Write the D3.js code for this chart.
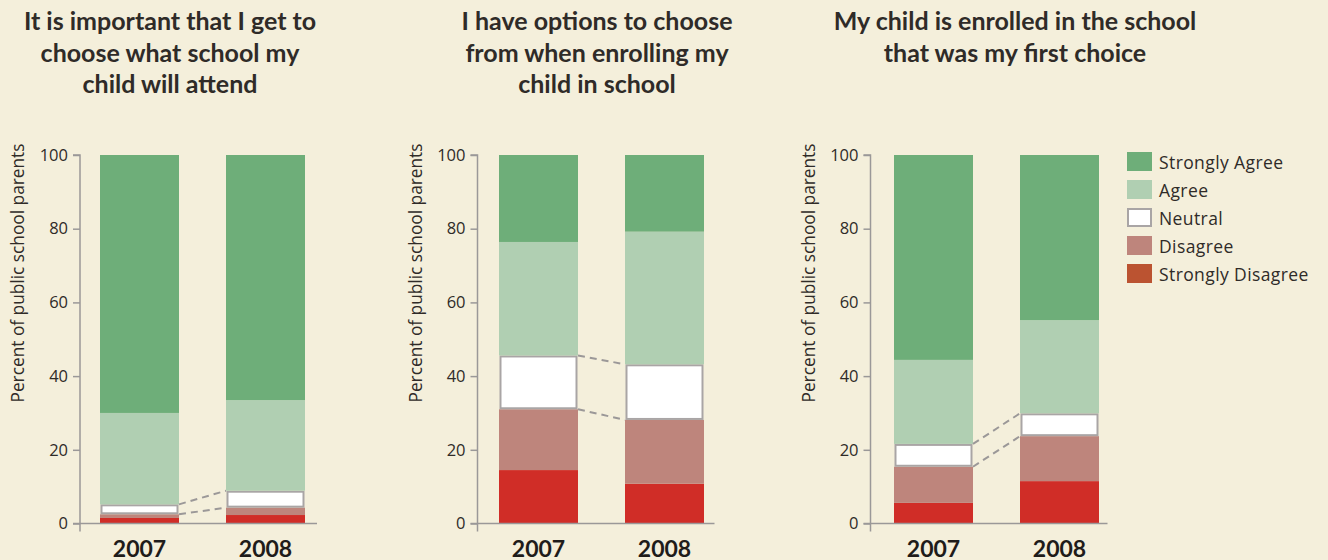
<!DOCTYPE html>
<html><head><meta charset="utf-8">
<script src="https://cdn.jsdelivr.net/npm/d3@7/dist/d3.min.js"></script>
<style>
html,body{margin:0;padding:0;background:#f4efdb;}
svg{display:block;}
</style></head>
<body>
<svg id="chart" width="1328" height="560"></svg>
<script>
const years = ["2007", "2008"];
const categories = ["Strongly Disagree", "Disagree", "Neutral", "Agree", "Strongly Agree"];
const legendOrder = ["Strongly Agree", "Agree", "Neutral", "Disagree", "Strongly Disagree"];
const titles = [
  ["It is important that I get to", "choose what school my", "child will attend"],
  ["I have options to choose", "from when enrolling my", "child in school"],
  ["My child is enrolled in the school", "that was my first choice"]
];
// values per panel, per year, order: SD, D, N, A, SA
const panel1 = [[1.5, 1.0, 2.7, 24.8, 70.0], [2.3, 2.0, 4.6, 24.6, 66.5]];
const panel2 = [[14.5, 16.5, 14.6, 30.8, 23.6], [10.8, 17.3, 15.1, 36.0, 20.8]];
const panel3 = [[5.6, 9.8, 6.2, 22.8, 55.6], [11.5, 12.2, 6.2, 25.3, 44.8]];
const yTicks = [0, 20, 40, 60, 80, 100];
const yLabel = "Percent of public school parents";

const panels = [panel1, panel2, panel3];
const barColors = {"Strongly Agree":"#6eae79","Agree":"#b0cfb2","Neutral":"#ffffff","Disagree":"#be857c","Strongly Disagree":"#d02d27"};
const legendColors = {"Strongly Agree":"#6eae79","Agree":"#b0cfb2","Neutral":"#ffffff","Disagree":"#be857c","Strongly Disagree":"#bb5331"};

const svg = d3.select("#chart");
const font = "Lato, 'Open Sans', sans-serif";
const wideFont = "'Open Sans', Lato, sans-serif";
const axisX = [80, 477.5, 870.5];
const barOffset = [20, 21.5, 23.5];
const titleX = [170, 597, 1015];
const y = d3.scaleLinear().domain([0, 100]).range([523.5, 155]);

panels.forEach((data, pi) => {
  const g = svg.append("g");
  const ax = axisX[pi];
  const x = d3.scaleBand().domain(years).range([ax + barOffset[pi], ax + barOffset[pi] + 205]).paddingInner(0.373).paddingOuter(0);

  // title
  const t = g.append("text").attr("x", titleX[pi]).attr("text-anchor", "middle")
    .attr("font-family", font).attr("font-weight", 700).attr("font-size", 25).attr("fill", "#2f2b28");
  titles[pi].forEach((line, li) => {
    t.append("tspan").attr("x", titleX[pi]).attr("y", 30 + li * 31.5).text(line);
  });

  // stacks
  years.forEach((yr, yi) => {
    let acc = 0;
    data[yi].forEach((v, ci) => {
      const cat = categories[ci];
      const y0 = acc, y1 = acc + v; acc = y1;
      if (cat === "Neutral") {
        g.append("rect").attr("x", x(yr) + 1.5).attr("width", x.bandwidth() - 3)
          .attr("y", y(y1) + 1).attr("height", Math.max(0, y(y0) - y(y1) - 2))
          .attr("fill", "#fff").attr("stroke", "#a9a5a5").attr("stroke-width", 2);
      } else {
        g.append("rect").attr("x", x(yr)).attr("width", x.bandwidth())
          .attr("y", y(y1)).attr("height", y(y0) - y(y1)).attr("fill", barColors[cat]);
      }
    });
  });

  // dashed connectors for neutral band
  const nb = years.map((yr, yi) => {
    const lo = data[yi][0] + data[yi][1];
    return [lo, lo + data[yi][2]];
  });
  [0, 1].forEach(k => {
    g.append("line")
      .attr("x1", x(years[0]) + x.bandwidth()).attr("y1", y(nb[0][k]))
      .attr("x2", x(years[1])).attr("y2", y(nb[1][k]))
      .attr("stroke", "#9b9898").attr("stroke-width", 2).attr("stroke-dasharray", "7,5");
  });

  // y axis
  const yAxis = d3.axisLeft(y).tickValues(yTicks).tickSize(7).tickPadding(5);
  const ga = g.append("g").attr("transform", `translate(${ax},0)`).call(yAxis);
  ga.select(".domain").attr("stroke", "#9a9898").attr("stroke-width", 1.5).attr("d", `M-7,${y(100)}H0V${y(0) + 8}`);
  ga.selectAll(".tick line").attr("stroke", "#9a9898").attr("stroke-width", 1.5);
  ga.selectAll(".tick text").attr("font-family", wideFont).attr("font-size", 16.5).attr("fill", "#2f2b28");
  // baseline
  g.append("line").attr("x1", ax - 7).attr("x2", ax + 237).attr("y1", y(0)).attr("y2", y(0))
    .attr("stroke", "#9a9898").attr("stroke-width", 1.5);

  // x labels
  const xAxis = d3.axisBottom(x).tickSize(0).tickPadding(0);
  const gx = g.append("g").attr("transform", `translate(0,${y(0)})`).call(xAxis);
  gx.select(".domain").remove();
  gx.selectAll(".tick text").attr("y", 33).attr("dy", null)
    .attr("font-family", font).attr("font-weight", 700).attr("font-size", 23).attr("fill", "#1f1c1a");

  // y label
  g.append("text").attr("transform", `translate(${ax - 56},${y(100) + 118}) rotate(-90)`)
    .attr("text-anchor", "middle").attr("font-family", wideFont).attr("font-size", 17.3).attr("fill", "#2f2b28")
    .text(yLabel);
});

// legend
const lg = svg.append("g").attr("transform", "translate(1127,152)");
legendOrder.forEach((cat, i) => {
  const row = lg.append("g").attr("transform", `translate(0,${i * 28})`);
  if (cat === "Neutral") {
    row.append("rect").attr("x", 1).attr("y", 1).attr("width", 23).attr("height", 17)
      .attr("fill", "#fff").attr("stroke", "#a9a5a5").attr("stroke-width", 2);
  } else {
    row.append("rect").attr("width", 25).attr("height", 19).attr("fill", legendColors[cat]);
  }
  row.append("text").attr("x", 32).attr("y", 16.5).attr("font-family", wideFont).attr("font-size", 17.5)
    .attr("letter-spacing", 0.4).attr("fill", "#2f2b28").text(cat);
});
</script>
</body></html>
